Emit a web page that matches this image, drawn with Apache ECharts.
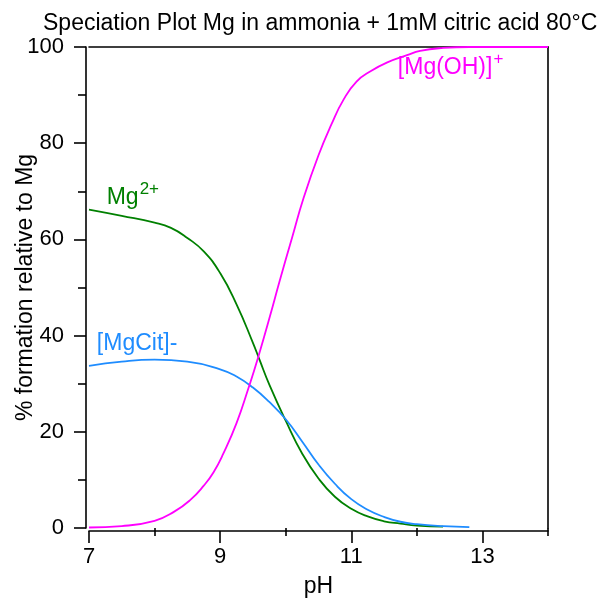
<!DOCTYPE html>
<html>
<head>
<meta charset="utf-8">
<script src="https://cdn.jsdelivr.net/npm/echarts@6/dist/echarts.min.js"></script>
<style>
  html, body { margin: 0; padding: 0; background: #fff; }
  #chart { width: 598px; height: 601px; }
</style>
</head>
<body>
<div id="chart"></div>
<script>
// Species distribution vs pH (percent of total Mg)
const phMg = [7.0, 7.5, 8.0, 8.25, 8.5, 8.75, 9.0, 9.25, 9.5, 9.6, 9.75, 10.0, 10.25, 10.5, 10.75, 11.0, 11.25, 11.5, 11.75, 12.0, 12.4];
const mg2plus = [66.2, 64.9, 63.5, 62.4, 60.3, 57.5, 53.0, 46.5, 38.5, 35.0, 29.8, 22.3, 15.5, 10.3, 6.5, 4.0, 2.4, 1.4, 0.9, 0.5, 0.3];

const phCit = [7.0, 7.5, 8.0, 8.5, 9.0, 9.25, 9.5, 9.75, 10.0, 10.25, 10.5, 10.75, 11.0, 11.25, 11.5, 11.75, 12.0, 12.4, 12.8];
const mgCit = [33.7, 34.6, 35.0, 34.6, 33.0, 31.5, 29.2, 26.2, 22.6, 18.0, 13.2, 9.2, 6.0, 3.8, 2.3, 1.3, 0.8, 0.4, 0.2];

const phOH = [7.0, 7.5, 8.0, 8.3, 8.55, 8.75, 8.9, 9.05, 9.25, 9.43, 9.58, 9.8, 9.9, 10.1, 10.27, 10.5, 10.7, 10.88, 11.08, 11.3, 11.55, 11.85, 12.05, 12.4, 12.8, 14.0];
const mgOH = [0.1, 0.4, 1.5, 3.4, 5.9, 8.8, 11.6, 15.5, 21.8, 29.0, 35.5, 46.0, 51.0, 60.5, 68.5, 77.5, 84.0, 89.0, 92.8, 95.0, 96.8, 98.3, 99.2, 99.8, 100.0, 100.0];

// Axis ticks
const xMajor = [7, 9, 11, 13];
const xMinor = [8, 10, 12, 14];
const yMajor = [0, 20, 40, 60, 80, 100];
const yMinor = [10, 30, 50, 70, 90];

const FONT = 'Liberation Sans, Arial, sans-serif';
const GREEN = '#008000';
const BLUE = '#1e8cff';
const MAGENTA = '#ff00ff';
const AXIS = { color: '#000', width: 1.6 };

const pairs = (xs, ys) => xs.map((x, i) => [x, ys[i]]);

const chart = echarts.init(document.getElementById('chart'));

const xBase = { type: 'value', min: 7, max: 14, splitLine: { show: false } };
const yBase = { type: 'value', min: 0, max: 100, splitLine: { show: false } };
const hidden = { axisLine: { show: false }, axisLabel: { show: false }, axisTick: { show: false } };

chart.setOption({
  animation: false,
  backgroundColor: '#fff',
  title: {
    text: 'Speciation Plot Mg in ammonia + 1mM citric acid 80°C',
    left: 38,
    top: 7,
    textStyle: { fontFamily: FONT, fontSize: 23, fontWeight: 'normal', color: '#000' }
  },
  grid: { left: 89, right: 50, top: 47, bottom: 73, containLabel: false, outerBoundsMode: 'none' },
  xAxis: [
    Object.assign({}, xBase, {
      position: 'bottom',
      offset: 3,
      name: 'pH',
      nameLocation: 'middle',
      nameGap: 44,
      nameMoveOverlap: false,
      nameTextStyle: { fontFamily: FONT, fontSize: 23, color: '#000' },
      axisLine: { show: true, onZero: false, lineStyle: AXIS },
      axisTick: { show: true, inside: false, length: 12, customValues: xMajor, lineStyle: AXIS },
      axisLabel: { show: true, fontFamily: FONT, fontSize: 22, color: '#000', margin: 15, customValues: xMajor }
    }),
    Object.assign({}, xBase, hidden, {
      position: 'bottom',
      offset: 3,
      axisTick: { show: true, inside: false, length: 8, customValues: xMinor, lineStyle: AXIS }
    }),
    Object.assign({}, xBase, hidden, {
      position: 'top',
      axisLine: { show: true, onZero: false, lineStyle: AXIS }
    })
  ],
  yAxis: [
    Object.assign({}, yBase, {
      position: 'left',
      offset: 3,
      name: '% formation relative to Mg',
      nameLocation: 'middle',
      nameGap: 49,
      nameMoveOverlap: false,
      nameTextStyle: { fontFamily: FONT, fontSize: 23, color: '#000' },
      axisLine: { show: true, onZero: false, lineStyle: AXIS },
      axisTick: { show: true, inside: false, length: 12, customValues: yMajor, lineStyle: AXIS },
      axisLabel: { show: true, fontFamily: FONT, fontSize: 22, color: '#000', margin: 22, customValues: yMajor }
    }),
    Object.assign({}, yBase, hidden, {
      position: 'left',
      offset: 3,
      axisTick: { show: true, inside: false, length: 8, customValues: yMinor, lineStyle: AXIS }
    }),
    Object.assign({}, yBase, hidden, {
      position: 'right',
      axisLine: { show: true, onZero: false, lineStyle: AXIS }
    })
  ],
  series: [
    {
      name: 'Mg2+', type: 'line', xAxisIndex: 0, yAxisIndex: 0,
      data: pairs(phMg, mg2plus), smooth: 0.5, showSymbol: false,
      lineStyle: { color: GREEN, width: 1.8 }, itemStyle: { color: GREEN }
    },
    {
      name: '[MgCit]-', type: 'line', xAxisIndex: 0, yAxisIndex: 0,
      data: pairs(phCit, mgCit), smooth: 0.5, showSymbol: false,
      lineStyle: { color: BLUE, width: 1.8 }, itemStyle: { color: BLUE }
    },
    {
      name: '[Mg(OH)]+', type: 'line', xAxisIndex: 0, yAxisIndex: 0,
      data: pairs(phOH, mgOH), smooth: 0.5, showSymbol: false,
      lineStyle: { color: MAGENTA, width: 1.8 }, itemStyle: { color: MAGENTA }
    }
  ]
});

// Species names placed in data coordinates next to their curves
function speciesText(at, text, color) {
  const p = chart.convertToPixel({ xAxisIndex: 0, yAxisIndex: 0 }, at);
  return {
    type: 'text',
    x: p[0],
    y: p[1],
    silent: true,
    style: {
      text: text,
      verticalAlign: 'middle',
      rich: {
        b: { fontFamily: FONT, fontSize: 23, fill: color, lineHeight: 28, verticalAlign: 'bottom' },
        s: { fontFamily: FONT, fontSize: 17, fill: color, lineHeight: 28, verticalAlign: 'top', padding: [0, 0, 0, 1] }
      }
    }
  };
}

chart.setOption({
  graphic: [
    speciesText([7.27, 69.3], '{b|Mg}{s|2+}', GREEN),
    speciesText([7.12, 38.8], '{b|[MgCit]-}', BLUE),
    speciesText([11.71, 96.3], '{b|[Mg(OH)]}{s|+}', MAGENTA)
  ]
});
</script>
</body>
</html>
